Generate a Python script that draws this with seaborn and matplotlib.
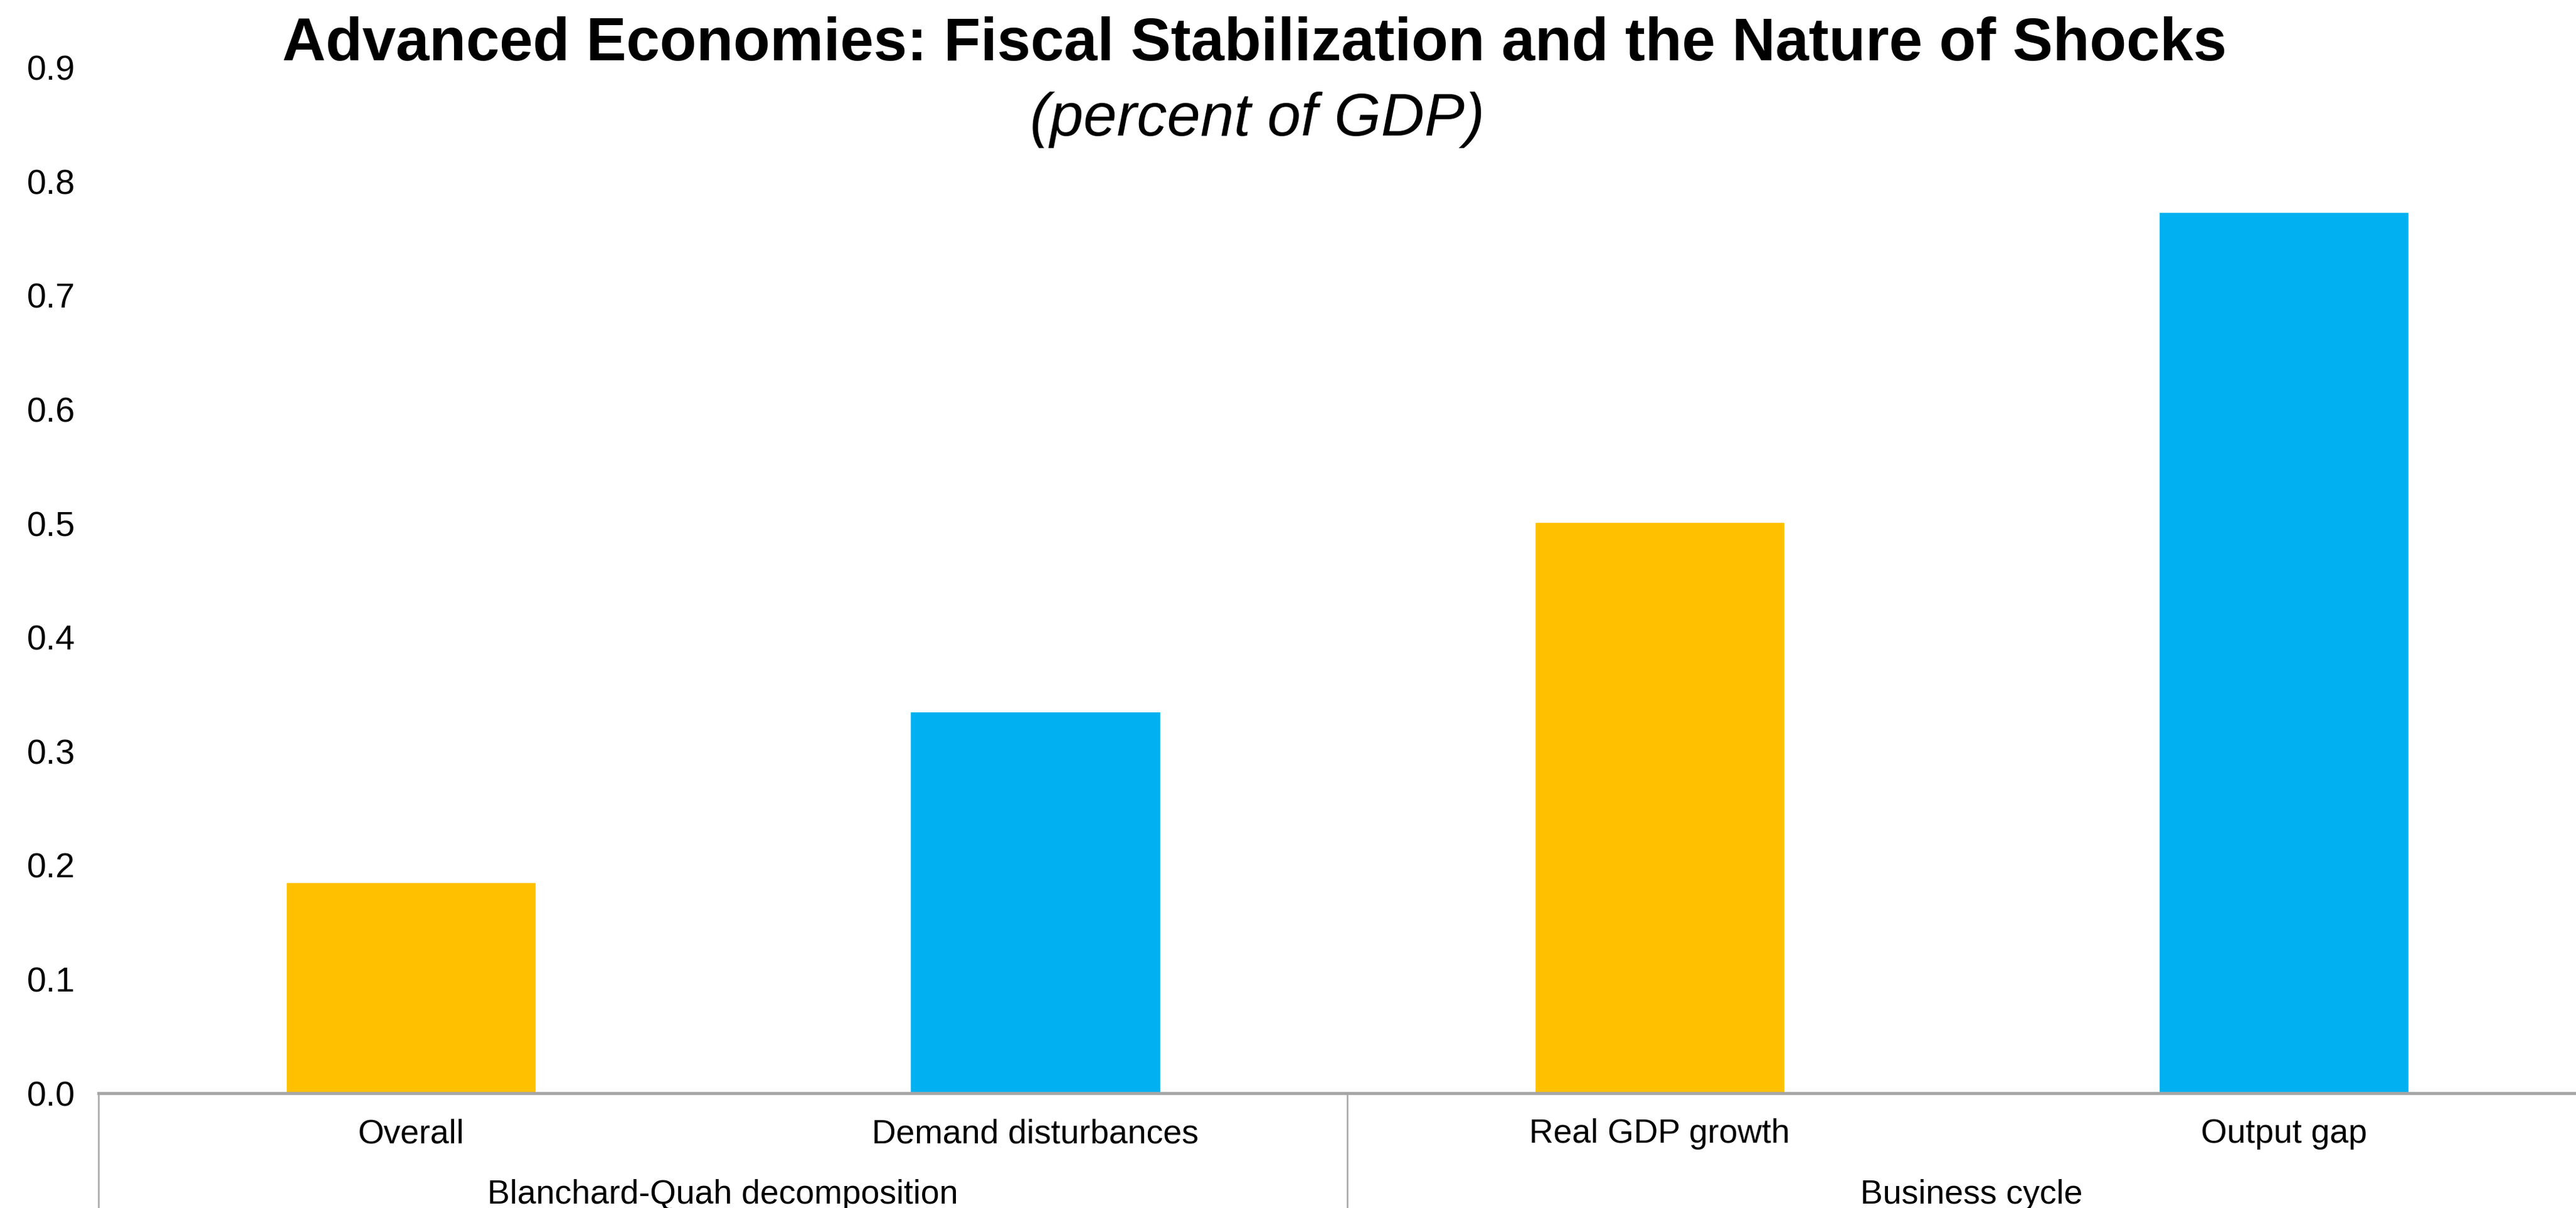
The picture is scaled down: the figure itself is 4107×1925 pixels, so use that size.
import matplotlib
matplotlib.use("Agg")
import matplotlib.pyplot as plt
import matplotlib.transforms as mtransforms
import pandas as pd
import seaborn as sns

# Chart data
categories = ["Overall", "Demand disturbances", "Real GDP growth", "Output gap"]
values = [0.185, 0.335, 0.501, 0.773]
bar_colors = ["#FFC000", "#00B0F0", "#FFC000", "#00B0F0"]
groups = ["Blanchard-Quah decomposition", "Business cycle"]
group_spans = [(0, 1), (2, 3)]
y_ticks = [0.0, 0.1, 0.2, 0.3, 0.4, 0.5, 0.6, 0.7, 0.8, 0.9]

title = "Advanced Economies: Fiscal Stabilization and the Nature of Shocks"
subtitle = "(percent of GDP)"

sns.set_theme(style="white")
plt.rcParams["font.family"] = ["Liberation Sans", "DejaVu Sans"]

df = pd.DataFrame({"category": categories, "value": values})

fig = plt.figure(figsize=(41.07, 19.25), dpi=100)
ax = fig.add_axes([0.0383, 0.095, 0.9695, 0.849])

sns.barplot(data=df, x="category", y="value", hue="category",
            palette=bar_colors, width=0.4, legend=False, ax=ax,
            saturation=1.0)

ax.set_xlim(-0.5, 3.5)
ax.set_ylim(0, 0.9)
ax.set_yticks(y_ticks)
ax.set_yticklabels([f"{t:.1f}" for t in y_ticks])
ax.set_xlabel("")
ax.set_ylabel("")

for side in ["top", "right", "left"]:
    ax.spines[side].set_visible(False)
ax.spines["bottom"].set_color("#A6A6A6")
ax.spines["bottom"].set_linewidth(3.5)

ax.tick_params(axis="y", length=0, pad=27, labelsize=40, labelcolor="black")
ax.tick_params(axis="x", length=0, pad=29, labelsize=38.5, labelcolor="black")

# Group separators and group labels below the category labels
trans = mtransforms.blended_transform_factory(ax.transData, ax.transAxes)
for x in [-0.5, 1.5, 3.5]:
    ax.plot([x, x], [0, -0.13], transform=trans, color="#A6A6A6",
            linewidth=1.8, clip_on=False)
for name, (a, b) in zip(groups, group_spans):
    ax.text((a + b) / 2, -0.099, name, transform=trans, ha="center",
            va="center", fontsize=38.5, color="black")

fig.text(0.487, 0.963, title, ha="center", va="center", fontsize=69,
         fontweight="bold", color="black")
fig.text(0.488, 0.901, subtitle, ha="center", va="center", fontsize=69,
         fontstyle="italic", color="black")

fig.savefig("out.png", dpi=100, facecolor="white")
